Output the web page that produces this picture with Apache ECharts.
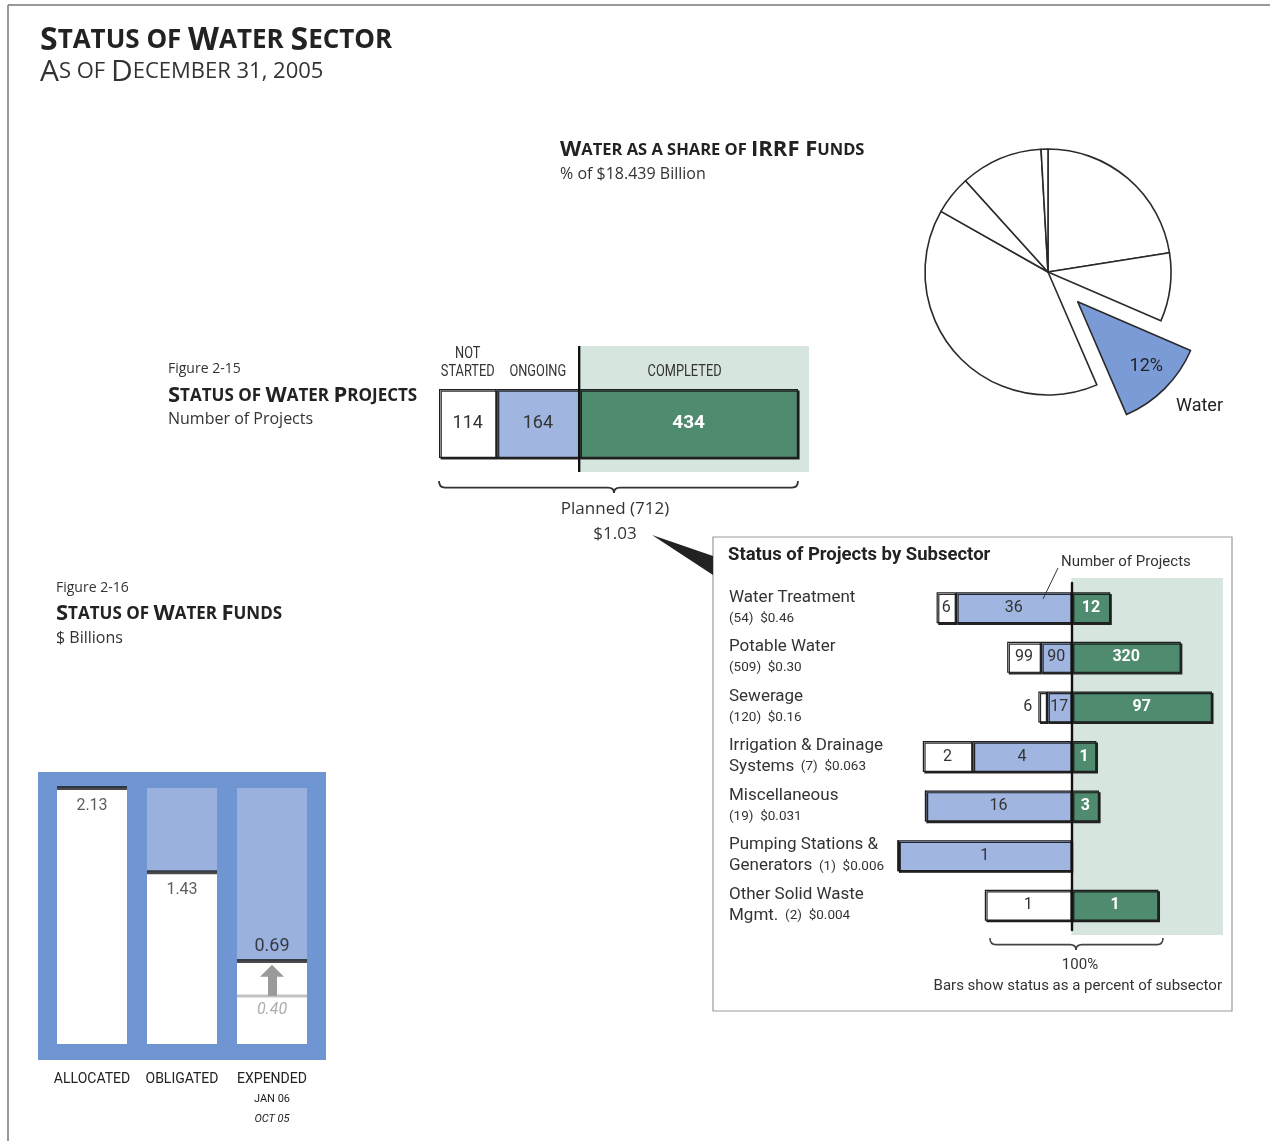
<!DOCTYPE html>
<html>
<head>
<meta charset="utf-8">
<title>Status of Water Sector</title>
<script src="https://cdn.jsdelivr.net/npm/echarts@6/dist/echarts.min.js"></script>
<style>
  html, body { margin: 0; padding: 0; background: #fff; }
  #main { width: 1270px; height: 1141px; }
</style>
</head>
<body>
<div id="main"></div>
<script>
// ---- values ----

// Water as a share of IRRF funds (% of $18.439 billion), clockwise from 12 o'clock
const irrfSectors = ['Sector A', 'Sector B', 'Water', 'Sector C', 'Sector D', 'Sector E', 'Sector F'];
const irrfShares = [22.5, 9, 12, 39.7, 5.1, 10.8, 0.9];

// Figure 2-15: status of water projects
const projectStatus = ['NOT STARTED', 'ONGOING', 'COMPLETED'];
const projectCounts = [114, 164, 434];
const plannedFunds = '$1.03';

// Status of projects by subsector
const subsectorLine1 = ['Water Treatment', 'Potable Water', 'Sewerage', 'Irrigation & Drainage',
  'Miscellaneous', 'Pumping Stations &', 'Other Solid Waste'];
const subsectorLine2 = ['', '', '', 'Systems', '', 'Generators', 'Mgmt.'];
const subsectorTotals = [54, 509, 120, 7, 19, 1, 2];
const subsectorFunds = ['$0.46', '$0.30', '$0.16', '$0.063', '$0.031', '$0.006', '$0.004'];
const subNotStarted = [6, 99, 6, 2, 0, 0, 1];
const subOngoing = [36, 90, 17, 4, 16, 1, 0];
const subCompleted = [12, 320, 97, 1, 3, 0, 1];

// Figure 2-16: status of water funds ($ billions)
const fundCategories = ['ALLOCATED', 'OBLIGATED', 'EXPENDED'];
const fundValues = [2.13, 1.43, 0.69];
const expendedOct05 = 0.40;
const expendedDates = ['JAN 06', 'OCT 05'];

// ---- styling ----
const SANS = '"Open Sans", sans-serif';
const ROBO = 'Roboto, sans-serif';
const INK = '#1e1e1e';
const TEXT = '#333';
const WHITE = '#ffffff';
const BLUE = '#a0b5e0';
const GREEN = '#4f8b6f';
const PALE_GREEN = '#d6e5dd';
const PANEL = '#6f96d3';
const PALE_BLUE = '#9ab1dd';
const WATER = '#7b9bd6';

const barEdge = {
  borderColor: INK, borderWidth: 1.2,
  shadowColor: 'rgba(20,20,20,0.9)', shadowBlur: 0, shadowOffsetX: 1.6, shadowOffsetY: 1.6
};

// layout of the three cartesian panels
const SUB = { left: 898, width: 325, top: 583, height: 347, min: -100, max: 87.2 };
const PRJ = { left: 439, width: 359, top: 389, height: 69 };
const FND = { left: 47, width: 270, top: 788, height: 256 };

const subZeroX = SUB.left + (0 - SUB.min) / (SUB.max - SUB.min) * SUB.width;
const prjTotal = projectCounts.reduce((a, b) => a + b, 0);
const prjX = (v) => PRJ.left + v / prjTotal * PRJ.width;
const prjSplit = prjX(projectCounts[0] + projectCounts[1]);

// mixed-case string -> rich text with small capitals
function smallCaps(str) {
  let out = '', cls = null, buf = '';
  for (const ch of str) {
    const k = /[a-z0-9,.]/.test(ch) ? 'b' : (ch === ' ' ? cls || 'a' : 'a');
    if (k !== cls && buf) { out += '{' + cls + '|' + buf + '}'; buf = ''; }
    cls = k;
    buf += ch.toUpperCase();
  }
  if (buf) out += '{' + cls + '|' + buf + '}';
  return out;
}

function heading(x, y, str, big, small, weight, color) {
  return {
    type: 'text', x: x, y: y, z: 50,
    style: {
      text: smallCaps(str), verticalAlign: 'middle', fill: color,
      rich: {
        a: { fontSize: big, fontWeight: weight, fontFamily: SANS, fill: color },
        b: { fontSize: small, fontWeight: weight, fontFamily: SANS, fill: color }
      }
    }
  };
}

function txt(x, y, text, opts, sx) {
  return {
    type: 'text', x: x, y: y, z: 50, scaleX: sx || 1,
    style: Object.assign({ text: text, fill: TEXT, fontSize: 16, fontFamily: SANS, verticalAlign: 'middle' }, opts)
  };
}

// curly brace opening downward, built from curve + line pieces
function brace(x1, x2, y, h, m, color, lw) {
  const yb = y + h * 0.55;
  const st = { stroke: color, lineWidth: lw, fill: 'none' };
  const q = (ax, ay, bx, by, cx, cy) => ({ type: 'bezierCurve', z: 50, shape: { x1: ax, y1: ay, x2: bx, y2: by, cpx1: cx, cpy1: cy }, style: st });
  const l = (ax, ay, bx, by) => ({ type: 'line', z: 50, shape: { x1: ax, y1: ay, x2: bx, y2: by }, style: st });
  return [
    q(x1, y, x1 + 6, yb, x1, yb),
    l(x1 + 6, yb, m - 6, yb),
    q(m - 6, yb, m, y + h, m, yb),
    q(m, y + h, m + 6, yb, m, yb),
    l(m + 6, yb, x2 - 6, yb),
    q(x2 - 6, yb, x2, y, x2, yb)
  ];
}

// subsector bars are drawn as percent of the subsector, labelled with counts
function subData(counts, sign) {
  return counts.map((c, i) => {
    const item = { value: sign * c / subsectorTotals[i] * 100, count: c };
    if (c === 0) item.label = { show: false };
    else if (c / subsectorTotals[i] * 100 < 8) item.label = { position: 'left', distance: 6 };
    return item;
  });
}

const subLayers = [
  { name: 'Ongoing', counts: subOngoing, sign: -1, color: BLUE, z: 3 },
  { name: 'Not started', counts: subNotStarted, sign: -1, color: WHITE, z: 2 },
  { name: 'Completed', counts: subCompleted, sign: 1, color: GREEN, z: 3 }
];

const chart = echarts.init(document.getElementById('main'));

const option = {
  animation: false,
  backgroundColor: '#fff',
  grid: [
    { left: SUB.left, width: SUB.width, top: SUB.top, height: SUB.height },
    { left: PRJ.left, width: PRJ.width, top: PRJ.top, height: PRJ.height },
    { left: FND.left, width: FND.width, top: FND.top, height: FND.height }
  ],
  xAxis: [
    { gridIndex: 0, type: 'value', min: SUB.min, max: SUB.max, show: false },
    { gridIndex: 1, type: 'value', min: 0, max: prjTotal, show: false },
    {
      gridIndex: 2, type: 'category', data: fundCategories,
      axisLine: { show: false }, axisTick: { show: false },
      axisLabel: {
        interval: 0, margin: 25,
        formatter: (v) => v === 'EXPENDED'
          ? '{m|' + v + '}\n{s|' + expendedDates[0] + '}\n{i|' + expendedDates[1] + '}'
          : '{m|' + v + '}',
        rich: {
          m: { fontFamily: ROBO, fontSize: 14, lineHeight: 20, color: '#222' },
          s: { fontFamily: ROBO, fontSize: 11, lineHeight: 20, color: '#222' },
          i: { fontFamily: ROBO, fontSize: 11, lineHeight: 20, color: '#222', fontStyle: 'italic' }
        }
      }
    }
  ],
  yAxis: [
    {
      gridIndex: 0, type: 'category', inverse: true, data: subsectorLine1, z: 5,
      axisTick: { show: false },
      axisLine: { onZero: true, lineStyle: { color: '#111', width: 2.4 } },
      axisLabel: {
        interval: 0, align: 'left', margin: SUB.left - 729,
        formatter: (v, i) => {
          const tail = '(' + subsectorTotals[i] + ')  ' + subsectorFunds[i];
          return subsectorLine2[i]
            ? '{n|' + v + '}\n{n|' + subsectorLine2[i] + '}{s|  ' + tail + '}'
            : '{n|' + v + '}\n{s|' + tail + '}';
        },
        rich: {
          n: { fontFamily: ROBO, fontSize: 17, lineHeight: 21, color: TEXT },
          s: { fontFamily: ROBO, fontSize: 13.5, lineHeight: 21, color: TEXT }
        }
      }
    },
    { gridIndex: 1, type: 'category', data: ['Projects'], show: false },
    { gridIndex: 2, type: 'value', min: 0, max: fundValues[0], show: false }
  ],
  series: [
    // pie: water as a share of IRRF funds
    {
      type: 'pie', center: [1048, 272], radius: 123, startAngle: 90, clockwise: true,
      selectedMode: 'single', selectedOffset: 42, avoidLabelOverlap: false,
      emphasis: { disabled: true },
      itemStyle: { color: WHITE, borderColor: '#2a2a2a', borderWidth: 1.6 },
      label: { show: false }, labelLine: { show: false },
      labelLayout: (p) => p.dataIndex === irrfSectors.indexOf('Water') ? { dx: 23, dy: 19 } : {},
      data: irrfSectors.map((n, i) => n === 'Water'
        ? {
          name: n, value: irrfShares[i], selected: true,
          itemStyle: { color: WATER },
          select: { itemStyle: { color: WATER, borderColor: '#2a2a2a', borderWidth: 1.6 } },
          label: { show: true, position: 'inside', formatter: '{c}%', fontFamily: ROBO, fontSize: 18, color: '#222' }
        }
        : { name: n, value: irrfShares[i] })
    },
    // Figure 2-15 stacked bar
    ...projectStatus.map((s, i) => ({
      type: 'bar', name: s, xAxisIndex: 1, yAxisIndex: 1, stack: 'projects', barWidth: PRJ.height,
      data: [projectCounts[i]],
      itemStyle: Object.assign({ color: [WHITE, BLUE, GREEN][i] }, barEdge),
      label: {
        show: true, position: 'inside', formatter: '{c}', fontFamily: ROBO,
        fontSize: i === 2 ? 19 : 18, fontWeight: i === 2 ? 'bold' : 'normal',
        color: i === 2 ? '#fff' : TEXT
      },
      silent: true
    })),
    // subsector bars
    ...subLayers.map((l) => ({
      type: 'bar', name: l.name, xAxisIndex: 0, yAxisIndex: 0, stack: 'sub', barWidth: 31, z: l.z,
      data: subData(l.counts, l.sign),
      itemStyle: Object.assign({ color: l.color }, barEdge),
      label: {
        show: true, position: 'inside', formatter: (p) => p.data.count, fontFamily: ROBO,
        fontSize: 16, fontWeight: l.sign > 0 ? 'bold' : 'normal', color: l.sign > 0 ? '#fff' : TEXT
      },
      silent: true
    })),
    // Figure 2-16 funds: white bars over the full-height pale blue background
    {
      type: 'bar', xAxisIndex: 2, yAxisIndex: 2, barWidth: 70, silent: true,
      showBackground: true, backgroundStyle: { color: PALE_BLUE },
      itemStyle: { color: WHITE },
      data: fundValues
    },
    {
      type: 'scatter', xAxisIndex: 2, yAxisIndex: 2, symbol: 'rect', symbolSize: [70, 4], z: 4, silent: true,
      itemStyle: { color: INK },
      label: { show: true, formatter: (p) => p.value[1].toFixed(2), fontFamily: ROBO, fontSize: 16, color: TEXT },
      data: fundValues.map((v, i) => ({
        value: [i, v],
        label: i === fundValues.length - 1
          ? { position: 'top', distance: 4, fontSize: 18, color: '#1a1a1a' }
          : { position: 'bottom', distance: 8 }
      }))
    },
    {
      type: 'scatter', xAxisIndex: 2, yAxisIndex: 2, symbol: 'rect', symbolSize: [70, 3], z: 4, silent: true,
      itemStyle: { color: '#b3b3b3' },
      label: {
        show: true, position: 'bottom', distance: 5, formatter: (p) => p.value[1].toFixed(2),
        fontFamily: ROBO, fontSize: 16, fontStyle: 'italic', color: '#999'
      },
      data: [{ value: [fundCategories.length - 1, expendedOct05] }],
      markLine: {
        silent: true, symbol: ['none', 'triangle'], symbolSize: [24, 12],
        lineStyle: { color: '#9a9a9a', width: 9, type: 'solid' },
        label: { show: false },
        data: [[
          { coord: [fundCategories.length - 1, expendedOct05] },
          { coord: [fundCategories.length - 1, fundValues[2] - 0.08] }
        ]]
      }
    }
  ],
  graphic: {
    elements: [
      // page frame
      { type: 'line', z: 1, shape: { x1: 8, y1: 5, x2: 1270, y2: 5 }, style: { stroke: '#777', lineWidth: 1.5 } },
      { type: 'line', z: 1, shape: { x1: 8, y1: 5, x2: 8, y2: 1141 }, style: { stroke: '#777', lineWidth: 1.5 } },

      // titles
      heading(40, 41, 'Status of Water Sector', 32, 26, 'bold', '#222'),
      heading(40, 72, 'As of December 31, 2005', 30, 22, 'normal', '#333'),

      // pie heading
      heading(560, 150, 'Water as a share of IRRF Funds', 22, 16.5, 'bold', '#222'),
      txt(560, 174, '% of $18.439 Billion', { fontSize: 16 }),
      txt(1176, 406, 'Water', { fontFamily: ROBO, fontSize: 18, fill: '#222' }),

      // Figure 2-15
      txt(168, 369, 'Figure 2-15', { fontSize: 14 }),
      heading(168, 396, 'Status of Water Projects', 22, 17, 'bold', '#222'),
      txt(168, 419, 'Number of Projects', { fontSize: 16 }),
      { type: 'rect', z: 0, shape: { x: prjSplit, y: 346, width: 809 - prjSplit, height: 126 }, style: { fill: PALE_GREEN } },
      { type: 'line', z: 60, shape: { x1: prjSplit, y1: 346, x2: prjSplit, y2: 472 }, style: { stroke: '#111', lineWidth: 2.4 } },
      txt(prjX(projectCounts[0] / 2), 354, 'NOT', { fontFamily: ROBO, fontSize: 16, align: 'center' }, 0.8),
      txt(prjX(projectCounts[0] / 2), 372, 'STARTED', { fontFamily: ROBO, fontSize: 16, align: 'center' }, 0.8),
      txt(prjX(projectCounts[0] + projectCounts[1] / 2), 372, projectStatus[1], { fontFamily: ROBO, fontSize: 16, align: 'center' }, 0.8),
      txt(prjX(projectCounts[0] + projectCounts[1] + projectCounts[2] / 2) - 4, 372, projectStatus[2], { fontFamily: ROBO, fontSize: 16, align: 'center' }, 0.8),
      ...brace(PRJ.left, PRJ.left + PRJ.width, 481, 12, 614, '#333', 1.8),
      txt(615, 509, 'Planned (' + prjTotal + ')', { fontSize: 17, align: 'center' }),
      txt(615, 534, plannedFunds, { fontSize: 17, align: 'center' }),

      // callout wedge + subsector box
      { type: 'polygon', z: 60, shape: { points: [[652, 535], [713, 556], [713, 575]] }, style: { fill: '#222' } },
      { type: 'rect', z: 0, shape: { x: 713, y: 537, width: 519, height: 474 }, style: { fill: '#fff', stroke: '#9a9a9a', lineWidth: 1.2 } },
      { type: 'rect', z: 1, shape: { x: subZeroX, y: 578, width: 1223 - subZeroX, height: 357 }, style: { fill: PALE_GREEN } },
      txt(728, 555, 'Status of Projects by Subsector', { fontFamily: ROBO, fontSize: 18.5, fontWeight: 'bold', fill: '#222' }),
      txt(1061, 562, 'Number of Projects', { fontFamily: ROBO, fontSize: 15 }),
      { type: 'line', z: 60, shape: { x1: 1058, y1: 568, x2: 1043, y2: 599 }, style: { stroke: '#333', lineWidth: 1 } },
      ...brace(990, 1163, 938, 12, 1076, '#444', 1.6),
      txt(1080, 965, '100%', { fontFamily: ROBO, fontSize: 15, align: 'center' }),
      txt(1222, 986, 'Bars show status as a percent of subsector', { fontFamily: ROBO, fontSize: 15, align: 'right' }),

      // Figure 2-16
      txt(56, 588, 'Figure 2-16', { fontSize: 14 }),
      heading(56, 614, 'Status of Water Funds', 22, 17, 'bold', '#222'),
      txt(56, 638, '$ Billions', { fontSize: 16 }),
      { type: 'rect', z: 0, shape: { x: 38, y: 772, width: 288, height: 288 }, style: { fill: PANEL } }
    ]
  }
};

chart.setOption(option);
</script>
</body>
</html>
